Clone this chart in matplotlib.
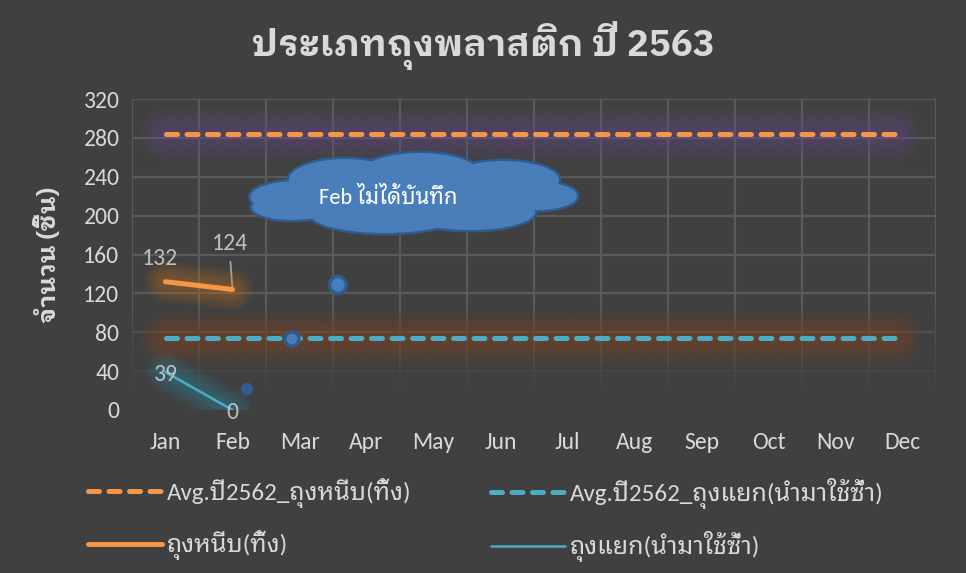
import matplotlib
matplotlib.use("Agg")
import matplotlib.pyplot as plt
import numpy as np
from matplotlib.patches import Ellipse
import matplotlib.patheffects as pe
from matplotlib.colors import to_rgb

months = ["Jan", "Feb", "Mar", "Apr", "May", "Jun", "Jul", "Aug", "Sep", "Oct", "Nov", "Dec"]
avg_clip = [284] * 12          # Avg.ปี2562_ถุงหนีบ(ทิ้ง)
avg_sep = [74] * 12            # Avg.ปี2562_ถุงแยก(นำมาใช้ซ้ำ)
clip_2563 = [132, 124]         # ถุงหนีบ(ทิ้ง)
sep_2563 = [39, 0]             # ถุงแยก(นำมาใช้ซ้ำ)
yticks = [0, 40, 80, 120, 160, 200, 240, 280, 320]

title = "ประเภทถุงพลาสติก ปี 2563"
ylabel = "จำนวน (ชิ้น)"
lab_avg_clip = "Avg.ปี2562_ถุงหนีบ(ทิ้ง)"
lab_avg_sep = "Avg.ปี2562_ถุงแยก(นำมาใช้ซ้ำ)"
lab_clip = "ถุงหนีบ(ทิ้ง)"
lab_sep = "ถุงแยก(นำมาใช้ซ้ำ)"
note = "Feb ไม่ได้บันทึก"

FONT = ['Carlito', 'Noto Sans Thai Looped', 'DejaVu Sans']
BOLDFONT = ['IBM Plex Sans Thai Looped', 'DejaVu Sans']
plt.rcParams['font.family'] = FONT

BG = '#404040'
GRID = '#5a5a5a'
TXT = '#d9d9d9'
ORANGE = '#F79646'
CYAN = '#4BACC6'

W, H = 966, 573
fig = plt.figure(figsize=(W / 100, H / 100), dpi=100, facecolor=BG)
ax = fig.add_axes([132 / W, 1 - 410 / H, (936 - 132) / W, (410 - 99) / H])
ax.set_facecolor(BG)

x = np.arange(len(months))
ax.set_xlim(-0.5, 11.5)
ax.set_ylim(0, 320)
ax.set_yticks(yticks)
ax.set_xticks(x)
ax.set_xticklabels(months)
ax.set_xticks(np.arange(-0.5, 12, 1), minor=True)
ax.tick_params(axis='both', which='both', length=0, colors=TXT, labelsize=17)
ax.tick_params(axis='x', pad=16)
ax.tick_params(axis='y', pad=9)
for s in ax.spines.values():
    s.set_visible(False)
ax.grid(axis='y', which='major', color=GRID, lw=1.6, zorder=0.5)
ax.grid(axis='x', which='minor', color=GRID, lw=1.6, zorder=0.5)
ax.set_axisbelow(True)

# fade of gridlines toward the bottom of the plot area
rgb = to_rgb(BG)
grad = np.zeros((100, 2, 4))
vals = np.linspace(320, 0, 100)
alpha = np.clip((110 - vals) / 100, 0, 1) ** 0.8
grad[..., 0], grad[..., 1], grad[..., 2] = rgb
grad[..., 3] = alpha[:, None]
ax.imshow(grad, extent=(-0.5, 11.5, 0, 320), aspect='auto', zorder=0.8,
          interpolation='bilinear')
ax.set_xlim(-0.5, 11.5)
ax.set_ylim(0, 320)

def glow(color, n=10, maxw=38, a=0.07):
    effects = []
    for i in range(n):
        w = maxw * (1 - i / n)
        effects.append(pe.Stroke(linewidth=w, foreground=color, alpha=a))
    effects.append(pe.Normal())
    return effects

# average lines
l1, = ax.plot(x, avg_clip, color=ORANGE, lw=3.6, dashes=(2.2, 1.9),
              dash_capstyle='round', label=lab_avg_clip,
              path_effects=glow('#6a4f8a'), zorder=3)
l2, = ax.plot(x, avg_sep, color=CYAN, lw=3.6, dashes=(2.2, 1.9),
              dash_capstyle='round', label=lab_avg_sep,
              path_effects=glow('#8a4a22'), zorder=3)
# 2563 lines
xs = x[:len(clip_2563)]
l3, = ax.plot(xs, clip_2563, color=ORANGE, lw=3.6, solid_capstyle='round',
              label=lab_clip, path_effects=glow('#c8741c', n=8, maxw=30), zorder=4)
l4, = ax.plot(xs, sep_2563, color=CYAN, lw=1.8, solid_capstyle='round',
              label=lab_sep, path_effects=glow('#2a9ab8', n=8, maxw=28, a=0.06), zorder=4)

# data labels
lblc = '#bfbfbf'
fs_lbl = 17
ax.annotate(str(clip_2563[0]), (xs[0], clip_2563[0]), xytext=(-4, 17),
            textcoords='offset points', ha='center', va='center', color=lblc, fontsize=fs_lbl, zorder=6)
ax.annotate(str(clip_2563[1]), (xs[1], clip_2563[1]), xytext=(-2, 33),
            textcoords='offset points', ha='center', va='center', color=lblc, fontsize=fs_lbl, zorder=6)
ax.annotate("", (xs[1], clip_2563[1]), xytext=(-1.5, 20), textcoords='offset points',
            arrowprops=dict(arrowstyle='-', color='#a6a6a6', lw=1.3, shrinkA=0, shrinkB=0))
ax.annotate(str(sep_2563[0]), (xs[0], sep_2563[0]), xytext=(0, -2),
            textcoords='offset points', ha='center', va='center', color=lblc, fontsize=fs_lbl, zorder=6)
ax.annotate(str(sep_2563[1]), (xs[1], sep_2563[1]), xytext=(0, -2),
            textcoords='offset points', ha='center', va='center', color=lblc, fontsize=fs_lbl, zorder=6)

# cloud callout (decorative, in figure pixel coordinates)
def fx(px):
    return px / W
def fy(py):
    return 1 - py / H
CLOUD = '#4a7ebb'
CEDGE = '#2f5b8f'
blobs = [(298, 197, 95, 32), (345, 180, 112, 42), (420, 174, 120, 42), (503, 180, 112, 38),
         (538, 196, 78, 28), (470, 212, 130, 36), (385, 214, 150, 38), (292, 207, 80, 26),
         (420, 196, 250, 50)]
for (cx, cy, w, h) in blobs:
    fig.patches.append(Ellipse((fx(cx), fy(cy)), w / W, h / H, transform=fig.transFigure,
                               facecolor=CLOUD, edgecolor=CEDGE, lw=3.5, zorder=5))
for (cx, cy, w, h) in blobs:
    fig.patches.append(Ellipse((fx(cx), fy(cy)), w / W, h / H, transform=fig.transFigure,
                               facecolor=CLOUD, edgecolor='none', lw=0, zorder=5.1))
for (cx, cy, r) in [(247, 389, 4.5), (292, 339, 7), (338, 285, 8.5)]:
    fig.patches.append(Ellipse((fx(cx), fy(cy)), 2 * r / W, 2 * r / H, transform=fig.transFigure,
                               facecolor=CLOUD if r > 5 else '#2f5b8f', edgecolor='#2f5b8f',
                               lw=2.5, zorder=5))
fig.text(fx(388), fy(197), note, ha='center', va='center', color='white', fontsize=16, zorder=6)

fig.text(fx(483), fy(45), title, ha='center', va='center', color=TXT, fontsize=26.5,
         fontweight='bold', family=BOLDFONT)
fig.text(fx(48), fy(255), ylabel, ha='center', va='center', rotation=90, color=TXT,
         fontsize=18, fontweight='bold', family=BOLDFONT)

legA = fig.legend(handles=[l1, l3], loc='upper left', bbox_to_anchor=(fx(88), fy(478)),
                  frameon=False, fontsize=18, labelcolor=TXT, handlelength=2.95,
                  handletextpad=0.2, labelspacing=0.9, borderpad=0, borderaxespad=0)
legB = fig.legend(handles=[l2, l4], loc='upper left', bbox_to_anchor=(fx(491), fy(478)),
                  frameon=False, fontsize=18, labelcolor=TXT, handlelength=2.95,
                  handletextpad=0.2, labelspacing=0.9, borderpad=0, borderaxespad=0)
for lg in (legA, legB):
    for h in lg.legend_handles:
        h.set_path_effects([])

fig.savefig("out.png", facecolor=BG)
